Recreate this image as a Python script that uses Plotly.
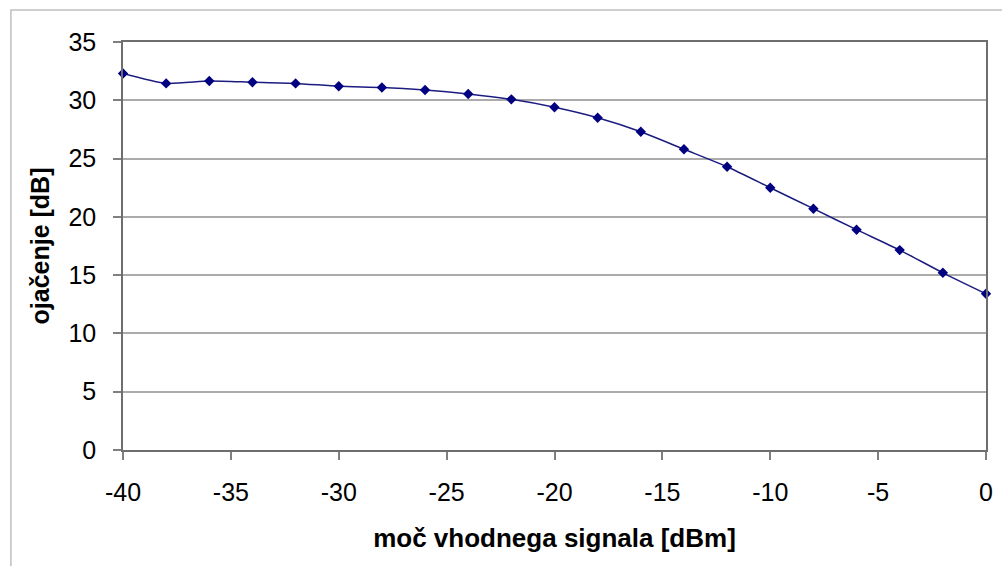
import plotly.graph_objects as go

x_vals = [-40, -38, -36, -34, -32, -30, -28, -26, -24, -22, -20, -18, -16, -14, -12, -10, -8, -6, -4, -2, 0]
gain_db = [32.3, 31.45, 31.65, 31.55, 31.45, 31.2, 31.1, 30.88, 30.54, 30.08, 29.4, 28.5, 27.3, 25.8, 24.3, 22.5, 20.7, 18.9, 17.15, 15.2, 13.4]
x_ticks = [-40, -35, -30, -25, -20, -15, -10, -5, 0]
y_ticks = [0, 5, 10, 15, 20, 25, 30, 35]

fig = go.Figure()
fig.add_trace(go.Scatter(
    x=x_vals, y=gain_db, mode="lines+markers",
    line=dict(color="#1c1c80", width=1.5, shape="spline", smoothing=0.6),
    marker=dict(symbol="diamond", size=8, color="#000080"),
    cliponaxis=False, showlegend=False,
))

font = "Liberation Sans, Arial, sans-serif"
fig.update_layout(
    width=1002, height=566,
    margin=dict(l=123, r=9, t=42, b=116),
    paper_bgcolor="white", plot_bgcolor="white",
    font=dict(family=font, color="black"),
    xaxis=dict(
        range=[-40, 0], tickvals=x_ticks, ticktext=[str(v) for v in x_ticks],
        ticks="outside", ticklen=8, tickcolor="#808080", tickwidth=1.5,
        tickfont=dict(size=25), ticklabelstandoff=11,
        showgrid=False, zeroline=False,
        showline=True, linecolor="#6e6e6e", linewidth=1.5, mirror=True,
        title=dict(text="<b>moč vhodnega signala [dBm]</b>", font=dict(size=26), standoff=24),
    ),
    yaxis=dict(
        range=[0, 35], tickvals=y_ticks, ticktext=[str(v) for v in y_ticks],
        ticks="outside", ticklen=8, tickcolor="#808080", tickwidth=1.5,
        tickfont=dict(size=25), ticklabelstandoff=12,
        showgrid=True, gridcolor="#ababab", gridwidth=1.5, zeroline=False,
        showline=True, linecolor="#6e6e6e", linewidth=1.5, mirror=True,
        title=dict(text="<b>ojačenje [dB]</b>", font=dict(size=25), standoff=12),
    ),
    shapes=[dict(
        type="rect", xref="paper", yref="paper",
        x0=(10 - 123) / 870, x1=(1020 - 123) / 870,
        y0=-(580 - 450) / 408, y1=1 + 32 / 408,
        line=dict(color="#c0c0c0", width=1.5), fillcolor="rgba(0,0,0,0)", layer="below",
    )],
)

fig.write_html(
    "out.html",
    config={"displayModeBar": False},
    post_script="document.body.style.margin='0';document.body.style.overflow='hidden';",
)
